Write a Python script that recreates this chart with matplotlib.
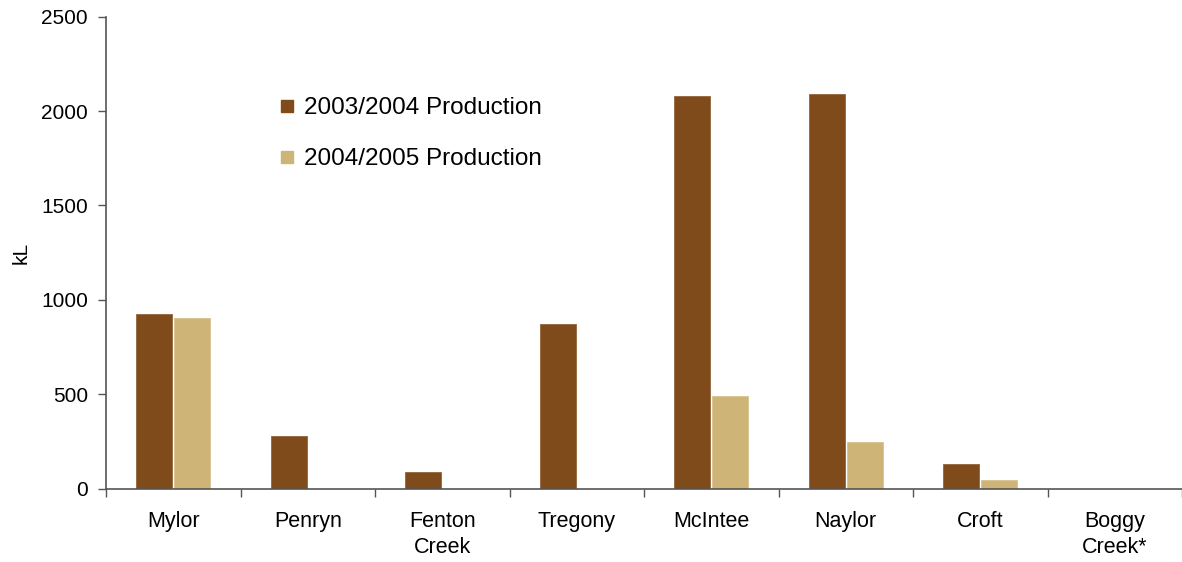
import numpy as np
import matplotlib.pyplot as plt
from matplotlib.lines import Line2D

# Production by site, kL
sites = ['Mylor', 'Penryn', 'Fenton\nCreek', 'Tregony', 'McIntee', 'Naylor', 'Croft', 'Boggy\nCreek*']
prod_0304 = [926, 280, 90, 873, 2079, 2090, 132, 0]
prod_0405 = [905, 0, 0, 0, 492, 249, 48, 0]
series_names = ['2003/2004 Production', '2004/2005 Production']

dark = '#7f4b1b'
tan = '#cfb478'

plt.rcParams['font.family'] = ['Liberation Sans', 'DejaVu Sans']

fig = plt.figure(figsize=(11.82, 5.62), dpi=100)
ax = fig.add_axes([0.0897, 0.13, 0.9103, 0.8406])

x = np.arange(len(sites))
w = 0.268
ax.bar(x - 0.142, prod_0304, w, color=dark, edgecolor='#94643a', linewidth=0.6)
ax.bar(x + 0.142, prod_0405, w, color=tan, edgecolor='#d8c291', linewidth=0.6)

ax.set_xlim(-0.5, len(sites) - 0.5)
ax.set_ylim(0, 2500)
ax.set_yticks(np.arange(0, 2501, 500))
ax.set_ylabel('kL', fontsize=15)
ax.yaxis.set_label_coords(-0.07, 0.5)

# labels centred under each group, tick marks on the group boundaries
ax.set_xticks(x)
ax.set_xticklabels(sites, fontsize=15.5, linespacing=1.3)
ax.tick_params(axis='x', which='major', length=0, pad=16)
ax.set_xticks(np.arange(-0.5, len(sites)), minor=True)
ax.tick_params(axis='x', which='minor', length=6, width=1, color='#555555', direction='out')
ax.tick_params(axis='y', labelsize=15, length=6, width=1, color='#555555', pad=7)

for s in ['top', 'right']:
    ax.spines[s].set_visible(False)
for s in ['left', 'bottom']:
    ax.spines[s].set_color('#555555')
    ax.spines[s].set_linewidth(1.2)

handles = [Line2D([], [], marker='s', linestyle='none', markersize=9, color=c) for c in (dark, tan)]
ax.legend(handles, series_names, loc='upper left', bbox_to_anchor=(0.214, 0.866),
          bbox_transform=fig.transFigure, frameon=False, fontsize=17.5,
          handletextpad=0.2, labelspacing=1.2, handlelength=1.0)

fig.savefig('out.png', dpi=100)
